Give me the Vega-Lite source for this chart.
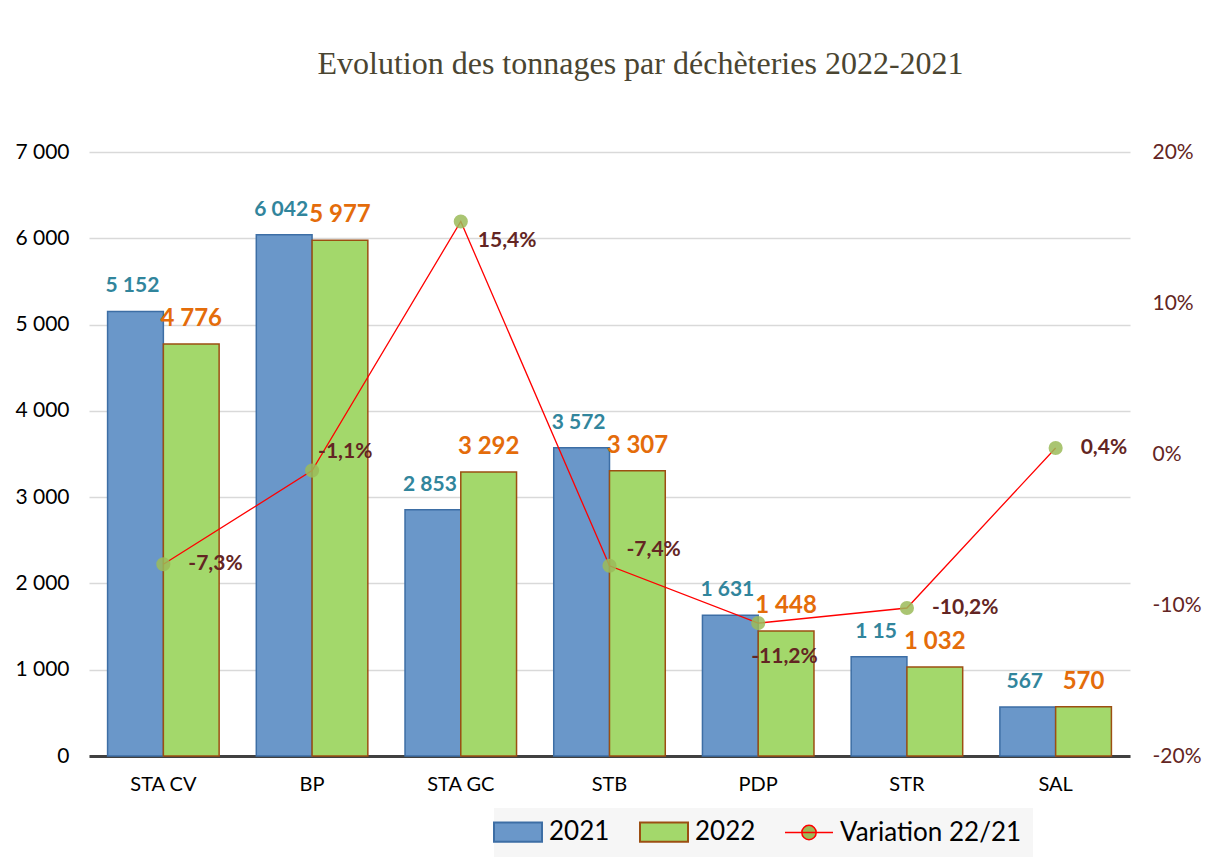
{
  "$schema": "https://vega.github.io/schema/vega-lite/v6.json",
  "width": 1041,
  "height": 604,
  "autosize": {"type": "none"},
  "padding": {"left": 89, "top": 152, "right": 77, "bottom": 102},
  "background": "white",
  "config": {
    "locale": {"number": {"decimal": ",", "thousands": " ", "grouping": [3], "currency": ["", " €"], "minus": "-", "percent": "%"}},
    "view": {"stroke": null},
    "font": "Lato",
    "axis": {"labelFont": "Lato", "ticks": false, "grid": false, "title": null}
  },
  "title": {
    "text": "Evolution des tonnages par déchèteries 2022-2021",
    "font": "Liberation Serif",
    "fontSize": 32,
    "fontWeight": "normal",
    "color": "#4a4531",
    "anchor": "middle",
    "dx": 31,
    "offset": 60
  },
  "datasets": {
    "bars": [
      {"category": "STA CV", "series": "2021", "value": 5152, "label": "5 152"},
      {"category": "STA CV", "series": "2022", "value": 4776, "label": "4 776"},
      {"category": "BP", "series": "2021", "value": 6042, "label": "6 042"},
      {"category": "BP", "series": "2022", "value": 5977, "label": "5 977"},
      {"category": "STA GC", "series": "2021", "value": 2853, "label": "2 853"},
      {"category": "STA GC", "series": "2022", "value": 3292, "label": "3 292"},
      {"category": "STB", "series": "2021", "value": 3572, "label": "3 572"},
      {"category": "STB", "series": "2022", "value": 3307, "label": "3 307"},
      {"category": "PDP", "series": "2021", "value": 1631, "label": "1 631"},
      {"category": "PDP", "series": "2022", "value": 1448, "label": "1 448"},
      {"category": "STR", "series": "2021", "value": 1150, "label": "1 15"},
      {"category": "STR", "series": "2022", "value": 1032, "label": "1 032"},
      {"category": "SAL", "series": "2021", "value": 567, "label": "567"},
      {"category": "SAL", "series": "2022", "value": 570, "label": "570"}
    ],
    "variation": [
      {"category": "STA CV", "variation": -0.073},
      {"category": "BP", "variation": -0.011},
      {"category": "STA GC", "variation": 0.154},
      {"category": "STB", "variation": -0.074},
      {"category": "PDP", "variation": -0.112},
      {"category": "STR", "variation": -0.102},
      {"category": "SAL", "variation": 0.004}
    ]
  },
  "encoding": {
    "x": {
      "field": "category",
      "type": "nominal",
      "sort": ["STA CV", "BP", "STA GC", "STB", "PDP", "STR", "SAL"],
      "scale": {"paddingInner": 0.25, "paddingOuter": 0.125},
      "axis": {"labelAngle": 0, "labelFontSize": 20, "labelColor": "#000000", "labelPadding": 18, "domainColor": "#404040", "domainWidth": 3, "title": null}
    }
  },
  "layer": [
    {
      "data": {"name": "bars"},
      "encoding": {
        "xOffset": {"field": "series", "type": "nominal", "scale": {"domain": ["2021", "2022"], "paddingInner": 0, "paddingOuter": 0}},
        "y": {
          "field": "value",
          "type": "quantitative",
          "scale": {"domain": [0, 7000], "nice": false},
          "axis": {"orient": "left", "values": [0, 1000, 2000, 3000, 4000, 5000, 6000, 7000], "format": ",.0f", "labelFontSize": 21, "labelColor": "#000000", "labelPadding": 20, "grid": true, "gridColor": "#d9d9d9", "gridWidth": 1.5, "domain": false, "title": null}
        }
      },
      "layer": [
        {
          "mark": {"type": "bar", "strokeWidth": 1.5},
          "encoding": {
            "fill": {
              "field": "series",
              "type": "nominal",
              "scale": {"domain": ["2021", "2022", "Variation 22/21"], "range": ["#6a97c9", "#a3d86b", "#9bbb59"]},
              "legend": {
                "title": null,
                "orient": "none",
                "legendX": 405,
                "legendY": 656,
                "direction": "horizontal",
                "fillColor": "#f6f6f6",
                "padding": 11,
                "columnPadding": 26,
                "labelOffset": 18,
                "labelLimit": 400,
                "labelFont": "Lato",
                "labelFontSize": 26,
                "labelColor": "#000000",
                "symbolSize": 2304,
                "encode": {
                  "symbols": {
                    "update": {
                      "shape": {"signal": "datum.value === 'Variation 22/21' ? 'M-1,0H1M-0.3,0A0.3,0.3 0 1,0 0.3,0A0.3,0.3 0 1,0 -0.3,0Z' : 'M-1,-0.4H1V0.4H-1Z'"},
                      "stroke": {"signal": "datum.value === '2021' ? '#3d6ea5' : datum.value === '2022' ? '#9c4f12' : '#ff0000'"},
                      "strokeWidth": {"signal": "datum.value === 'Variation 22/21' ? 1.5 : 2"},
                      "opacity": {"value": 1}
                    }
                  }
                }
              }
            },
            "stroke": {
              "field": "series",
              "type": "nominal",
              "scale": {"domain": ["2021", "2022"], "range": ["#3d6ea5", "#9c4f12"]},
              "legend": null
            }
          }
        },
        {
          "transform": [{"filter": "datum.series === '2021'"}],
          "mark": {"type": "text", "font": "Lato", "fontWeight": "bold", "fontSize": 21, "color": "#31859c", "baseline": "middle", "align": "center", "dy": -25, "dx": -3},
          "encoding": {"text": {"field": "label"}}
        },
        {
          "transform": [{"filter": "datum.series === '2022'"}],
          "mark": {"type": "text", "font": "Lato", "fontWeight": "bold", "fontSize": 24, "color": "#e46c0a", "baseline": "middle", "align": "center", "dy": -25},
          "encoding": {"text": {"field": "label"}}
        }
      ]
    },
    {
      "data": {"name": "variation"},
      "encoding": {
        "y": {
          "field": "variation",
          "type": "quantitative",
          "scale": {"domain": [-0.2, 0.2], "nice": false},
          "axis": {"orient": "right", "values": [-0.2, -0.1, 0, 0.1, 0.2], "format": ".0%", "labelFontSize": 21, "labelColor": "#632523", "labelPadding": 22, "grid": false, "domain": false, "title": null}
        }
      },
      "layer": [
        {"mark": {"type": "line", "color": "#ff0000", "strokeWidth": 1.3}},
        {
          "mark": {"type": "point", "filled": true, "size": 200, "opacity": 0.85, "strokeWidth": 0},
          "encoding": {"fill": {"datum": "Variation 22/21"}}
        },
        {
          "transform": [{"filter": "indexof(['STA CV','STR','SAL'], datum.category) >= 0"}],
          "mark": {"type": "text", "font": "Lato", "fontWeight": "bold", "fontSize": 21, "color": "#632523", "align": "left", "baseline": "middle", "dx": 25},
          "encoding": {"text": {"field": "variation", "format": ".1%"}}
        },
        {
          "transform": [{"filter": "datum.category === 'BP'"}],
          "mark": {"type": "text", "font": "Lato", "fontWeight": "bold", "fontSize": 21, "color": "#632523", "align": "left", "baseline": "middle", "dx": 6, "dy": -19},
          "encoding": {"text": {"field": "variation", "format": ".1%"}}
        },
        {
          "transform": [{"filter": "datum.category === 'STA GC'"}],
          "mark": {"type": "text", "font": "Lato", "fontWeight": "bold", "fontSize": 21, "color": "#632523", "align": "left", "baseline": "middle", "dx": 17, "dy": 20},
          "encoding": {"text": {"field": "variation", "format": ".1%"}}
        },
        {
          "transform": [{"filter": "datum.category === 'STB'"}],
          "mark": {"type": "text", "font": "Lato", "fontWeight": "bold", "fontSize": 21, "color": "#632523", "align": "left", "baseline": "middle", "dx": 17, "dy": -16},
          "encoding": {"text": {"field": "variation", "format": ".1%"}}
        },
        {
          "transform": [{"filter": "datum.category === 'PDP'"}],
          "mark": {"type": "text", "font": "Lato", "fontWeight": "bold", "fontSize": 21, "color": "#632523", "align": "left", "baseline": "middle", "dx": -7, "dy": 34},
          "encoding": {"text": {"field": "variation", "format": ".1%"}}
        }
      ]
    }
  ],
  "resolve": {"scale": {"y": "independent"}}
}
